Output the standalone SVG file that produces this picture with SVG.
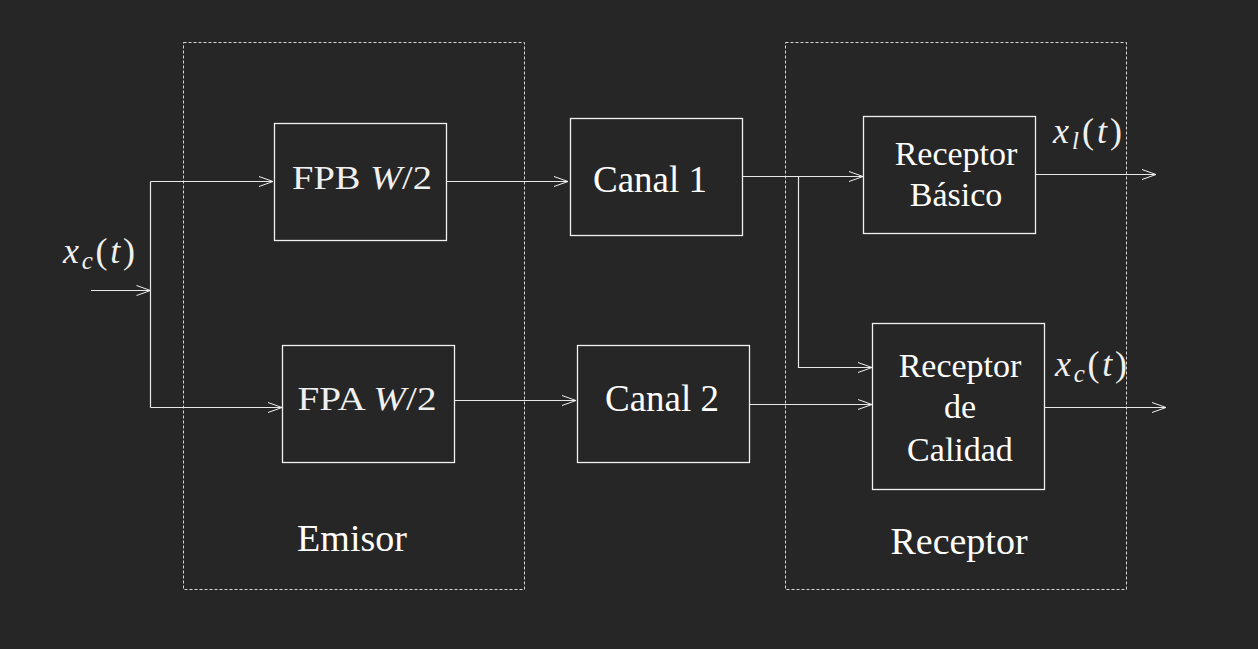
<svg xmlns="http://www.w3.org/2000/svg" width="1258" height="649" viewBox="0 0 1258 649">
<defs>
<marker id="arr" markerWidth="16" markerHeight="12" refX="15" refY="6" orient="auto" markerUnits="userSpaceOnUse">
<path d="M1,1 L15,6 L1,11" fill="none" stroke="#f0f0f0" stroke-width="1"/>
</marker>
<style>
.bg{fill:#262626}
.box{fill:none;stroke:#f0f0f0;stroke-width:1.3}
.dash{fill:none;stroke:#d8d8d8;stroke-width:1;stroke-dasharray:3 2}
.ln{fill:none;stroke:#e8e8e8;stroke-width:1.2}
text{font-family:'Liberation Serif','DejaVu Serif',serif}
.t{fill:#ffffff;text-anchor:middle}
.m{fill:#f0f0f0}
.it{font-style:italic}
</style>
</defs>
<rect class="bg" x="0" y="0" width="1258" height="649"/>
<g id="emisor">
<rect class="dash" x="183.5" y="42.5" width="341" height="547"/>
<text class="t" x="352" y="551" font-size="38">Emisor</text>
</g>
<g id="receptor">
<rect class="dash" x="785.5" y="42.5" width="341" height="547"/>
<text class="t" x="959" y="554" font-size="38">Receptor</text>
</g>
<g id="fpb">
<rect class="box" x="274.5" y="123.5" width="172" height="117"/>
<text class="m" x="362" y="189" font-size="34" text-anchor="middle" textLength="140" lengthAdjust="spacingAndGlyphs">FPB <tspan class="it">W</tspan>/2</text>
</g>
<g id="fpa">
<rect class="box" x="282.5" y="345.5" width="172" height="117"/>
<text class="m" x="367" y="410" font-size="34" text-anchor="middle" textLength="139" lengthAdjust="spacingAndGlyphs">FPA <tspan class="it">W</tspan>/2</text>
</g>
<g id="canal1">
<rect class="box" x="570.5" y="118.5" width="172" height="117"/>
<text class="t" x="650" y="192" font-size="37">Canal 1</text>
</g>
<g id="canal2">
<rect class="box" x="577.5" y="345.5" width="172" height="117"/>
<text class="t" x="662" y="411" font-size="37">Canal 2</text>
</g>
<g id="rbasico">
<rect class="box" x="863.5" y="116.5" width="172" height="117"/>
<text class="t" x="956" y="165" font-size="34">Receptor</text>
<text class="t" x="956" y="206" font-size="34">Básico</text>
</g>
<g id="rcalidad">
<rect class="box" x="872.5" y="323.5" width="172" height="166"/>
<text class="t" x="960" y="377" font-size="34">Receptor</text>
<text class="t" x="960" y="418" font-size="34">de</text>
<text class="t" x="960" y="461" font-size="34">Calidad</text>
</g>
<g id="labels">
<text class="m" x="63" y="263" font-size="36" textLength="72" lengthAdjust="spacing"><tspan class="it">x</tspan><tspan class="it" font-size="25" dy="6">c</tspan><tspan dy="-6">(</tspan><tspan class="it">t</tspan>)</text>
<text class="m" x="1053" y="143" font-size="36" textLength="69" lengthAdjust="spacing"><tspan class="it">x</tspan><tspan class="it" font-size="25" dy="6">l</tspan><tspan dy="-6">(</tspan><tspan class="it">t</tspan>)</text>
<text class="m" x="1055" y="376" font-size="36" textLength="72" lengthAdjust="spacing"><tspan class="it">x</tspan><tspan class="it" font-size="25" dy="6">c</tspan><tspan dy="-6">(</tspan><tspan class="it">t</tspan>)</text>
</g>
<g id="connectors">
<path class="ln" d="M91,290.5 H150.5" marker-end="url(#arr)"/>
<path class="ln" d="M150.5,181.5 V407.5"/>
<path class="ln" d="M150.5,181.5 H273" marker-end="url(#arr)"/>
<path class="ln" d="M150.5,407.5 H282" marker-end="url(#arr)"/>
<path class="ln" d="M446.5,181.5 H568" marker-end="url(#arr)"/>
<path class="ln" d="M454.5,400.5 H576" marker-end="url(#arr)"/>
<path class="ln" d="M742.5,176.5 H863" marker-end="url(#arr)"/>
<path class="ln" d="M798.5,176.5 V367.5 H872" marker-end="url(#arr)"/>
<path class="ln" d="M749.5,404.5 H872" marker-end="url(#arr)"/>
<path class="ln" d="M1035.5,174.5 H1156" marker-end="url(#arr)"/>
<path class="ln" d="M1044.5,407.5 H1166" marker-end="url(#arr)"/>
</g>
</svg>
